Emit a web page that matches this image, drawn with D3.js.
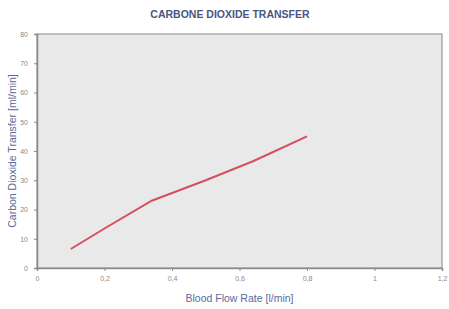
<!DOCTYPE html>
<html>
<head>
<meta charset="utf-8">
<script src="https://cdn.jsdelivr.net/npm/d3@7"></script>
<style>
  body { margin: 0; background: #fff; }
  svg { display: block; font-family: "Liberation Sans", Arial, sans-serif; }
</style>
</head>
<body>
<div id="chart"></div>
<script>
// blood flow rate [l/min]
const flowRate = [0.1, 0.2, 0.34, 0.5, 0.64, 0.8];
// carbon dioxide transfer [ml/min]
const co2Transfer = [6.5, 13.5, 23, 30, 36.5, 45];
const xTicks = [0, 0.2, 0.4, 0.6, 0.8, 1, 1.2];
const yTicks = [0, 10, 20, 30, 40, 50, 60, 70, 80];

const width = 449, height = 309;
const margin = { top: 34, right: 7, bottom: 41, left: 37 };

const svg = d3.select("#chart").append("svg")
  .attr("width", width)
  .attr("height", height);

const x = d3.scaleLinear().domain([0, 1.2]).range([margin.left, width - margin.right]);
const y = d3.scaleLinear().domain([0, 80]).range([height - margin.bottom, margin.top]);

// plot background
svg.append("rect")
  .attr("x", x(0))
  .attr("y", y(80))
  .attr("width", x(1.2) - x(0))
  .attr("height", y(0) - y(80))
  .attr("fill", "#e9e9e9")
  .attr("stroke", "#9a9a9a")
  .attr("stroke-width", 1.2);

const fmt = d => String(d).replace(".", ",");

const xAxis = svg.append("g")
  .attr("transform", `translate(0,${y(0)})`)
  .call(d3.axisBottom(x).tickValues(xTicks).tickFormat(fmt).tickSize(3).tickPadding(5));
xAxis.select(".domain").attr("stroke", "#8a8a8a").attr("stroke-width", 1.5);

const yAxis = svg.append("g")
  .attr("transform", `translate(${x(0)},0)`)
  .call(d3.axisLeft(y).tickValues(yTicks).tickSize(3).tickPadding(6));
yAxis.select(".domain").attr("stroke", "#8a8a8a").attr("stroke-width", 1.5);

svg.selectAll(".tick line").attr("stroke", "#8a8a8a");
svg.selectAll(".tick text")
  .attr("fill", "#8a8a8a")
  .style("font-size", "7px");

// line
const pts = flowRate.map((v, i) => [v, co2Transfer[i]]);
svg.append("path")
  .datum(pts)
  .attr("fill", "none")
  .attr("stroke", "#d4505f")
  .attr("stroke-width", 2)
  .attr("d", d3.line().x(d => x(d[0])).y(d => y(d[1])));

// title
svg.append("text")
  .attr("x", 230)
  .attr("y", 18)
  .attr("text-anchor", "middle")
  .attr("fill", "#4a5680")
  .style("font-size", "10.5px")
  .style("font-weight", "bold")
  .text("CARBONE DIOXIDE TRANSFER");

// axis titles
svg.append("text")
  .attr("x", (x(0) + x(1.2)) / 2)
  .attr("y", 302)
  .attr("text-anchor", "middle")
  .attr("fill", "#5a6a9a")
  .style("font-size", "10.5px")
  .text("Blood Flow Rate [l/min]");

svg.append("text")
  .attr("transform", `translate(16,${(y(0) + y(80)) / 2}) rotate(-90)`)
  .attr("text-anchor", "middle")
  .attr("fill", "#5a6a9a")
  .style("font-size", "10.5px")
  .text("Carbon Dioxide Transfer [ml/min]");
</script>
</body>
</html>
